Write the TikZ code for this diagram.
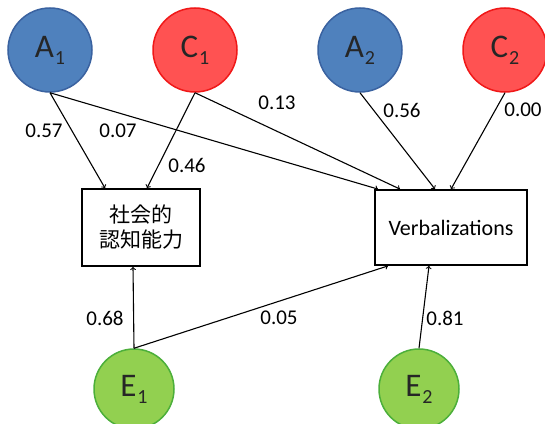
\documentclass[tikz,border=0pt]{standalone}
\usepackage{fontspec}
\setmainfont{Carlito}
\newfontfamily\jpfont{Noto Sans CJK JP}
\tikzset{
every picture/.style={
line width=1.1pt
}}
\usetikzlibrary{shapes}
\definecolor{ablue}{HTML}{4F81BD}
\definecolor{abluedark}{HTML}{3A62A0}
\definecolor{cred}{HTML}{FF5252}
\definecolor{creddark}{HTML}{F01818}
\definecolor{egreen}{HTML}{92D050}
\definecolor{egreendark}{HTML}{4CAF3A}
\newcommand{\lowidx}[1]{\hspace{1pt}\raisebox{-7pt}{\fontsize{20}{20}\selectfont #1}}

\begin{document}
\begin{tikzpicture}[x=1pt, y=-1pt,
latent/.style = {circle, inner sep=0pt, line width=1.5pt, font=\fontsize{33}{35}\selectfont, text=black!85},
block/.style = {rectangle, draw=black, line width=1.8pt, align=center},
coef/.style = {font=\fontsize{21}{24}\selectfont, inner sep=1pt}]

\useasboundingbox (0,0) rectangle (545,423);

\node[latent, minimum size=84pt, draw=abluedark, fill=ablue] (a1) at (50,50) {A\lowidx{1}};
\node[latent, minimum size=84pt, draw=creddark, fill=cred] (c1) at (195,50) {C\lowidx{1}};
\node[latent, minimum size=84pt, draw=abluedark, fill=ablue] (a2) at (360,50) {A\lowidx{2}};
\node[latent, minimum size=84pt, draw=creddark, fill=cred] (c2) at (505,50) {C\lowidx{2}};
\node[latent, minimum size=80pt, draw=egreendark, fill=egreen] (e1) at (134,389) {E\lowidx{1}};
\node[latent, minimum size=80pt, draw=egreendark, fill=egreen] (e2) at (419,389) {E\lowidx{2}};

\node[block, minimum width=118pt, minimum height=77pt, font=\jpfont\fontsize{21}{25}\selectfont] (soc) at (141,227.5) {社会的\\認知能力};
\node[block, minimum width=152pt, minimum height=75pt, font=\fontsize{22}{26}\selectfont] (verb) at (451,227.5) {Verbalizations};

\draw [->] (a1.south) -- ([xshift=-36pt]soc.north);
\draw [->] (c1.south) -- ([xshift=6pt]soc.north);
\draw [->] (a1.south) -- ([xshift=-73pt]verb.north);
\draw [->] (c1.south) -- ([xshift=-51pt]verb.north);
\draw [->] (a2.south) -- ([xshift=-16pt]verb.north);
\draw [->] (c2.south) -- (verb.north);
\draw [->] (e1.north) -- ([xshift=-8pt]soc.south);
\draw [->] (e1.north) -- ([xshift=-63pt]verb.south);
\draw [->] (e2.north) -- ([xshift=-22pt]verb.south);

\node[coef] (l57) at (44,131) {0.57};
\node[coef] (l07) at (118,131) {0.07};
\node[coef] (l46) at (187,165) {0.46};
\node[coef] (l13) at (277,103) {0.13};
\node[coef] (l56) at (402,110) {0.56};
\node[coef] (l00) at (523,110) {0.00};
\node[coef] (l68) at (105,318) {0.68};
\node[coef] (l05) at (279,318) {0.05};
\node[coef] (l81) at (445,318) {0.81};
\end{tikzpicture}
\end{document}
